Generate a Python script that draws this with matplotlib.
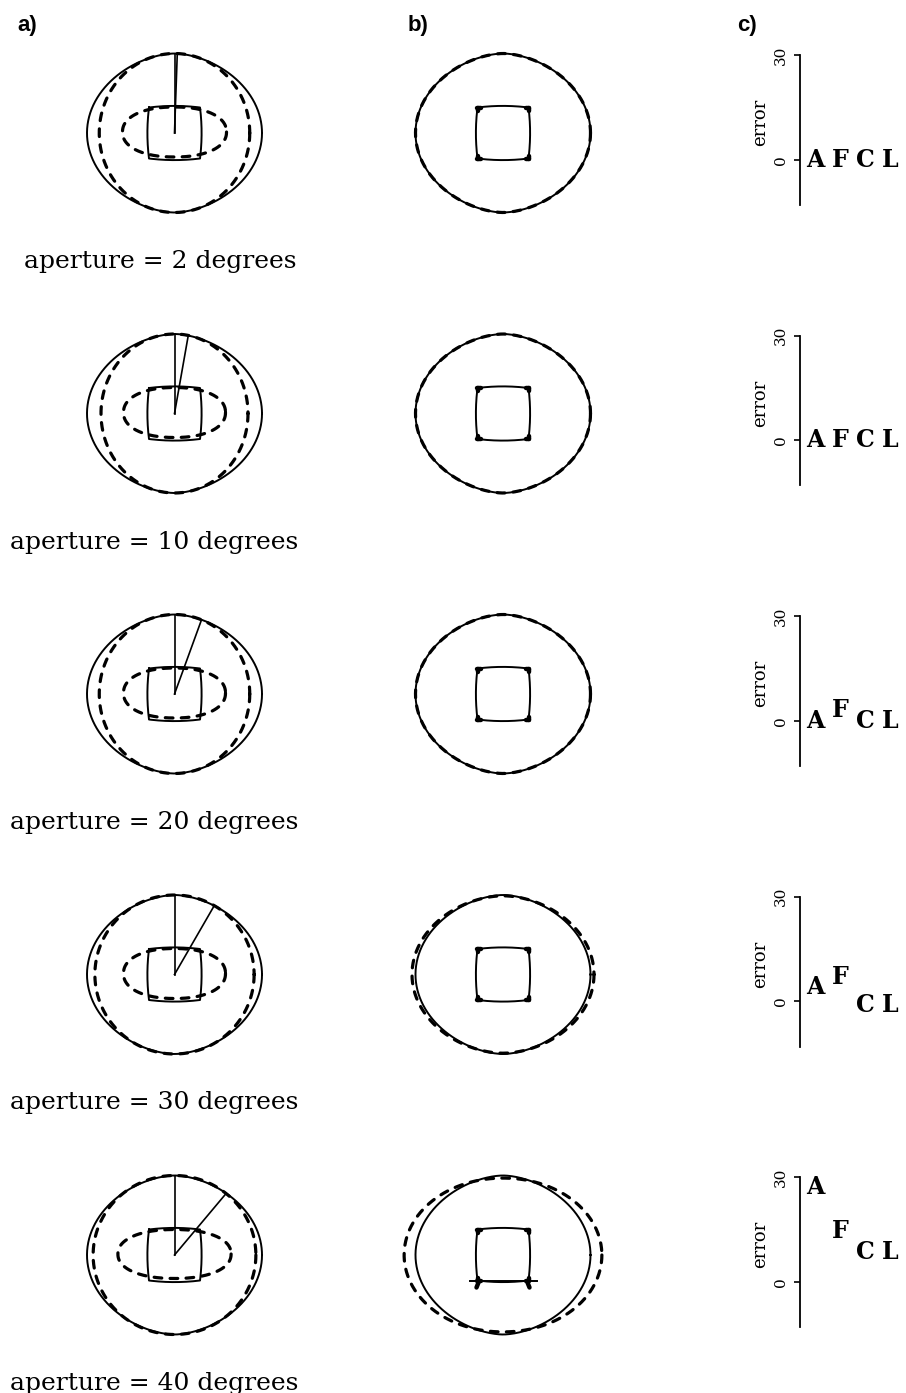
import numpy as np
import matplotlib.pyplot as plt

# one row per aperture
apertures = [2, 10, 20, 30, 40]
# column a: estimated outer contour width relative to the true contour
a_outer_est = [0.86, 0.84, 0.86, 0.91, 0.93]
# column a: estimated inner contour, half-axes relative to the square half-size
a_inner_w = [2.04, 2.0, 2.0, 2.0, 2.22]
a_inner_h = [0.98, 0.98, 0.98, 0.98, 0.96]
# column b: estimated outer contour width relative to the true contour
b_outer_est = [1.0, 1.0, 1.0, 1.04, 1.13]
# column c: error per method
methods = ['A', 'F', 'C', 'L']
err_A = [0, 0, 0, 4, 27]
err_F = [0, 0, 3, 7, 14.5]
err_C = [0, 0, 0, -1, 8.5]
err_L = [0, 0, 0, -1, 8.5]

W, H = 906, 1393
row_y0, row_dy = 133, 280.5
col_a, col_b = 174.5, 503
R_A, R_B, P_OUT = 87.5, 79.5, 1.75   # true outer contour
SQ, BULGE = 25.5, 1.6                  # true inner square
serif = 'DejaVu Serif'


def superellipse(cx, cy, a, b, px=2.0, py=2.0, n=500):
    t = np.linspace(0, 2*np.pi, n)
    c, s = np.cos(t), np.sin(t)
    return (cx + a*np.sign(c)*np.abs(c)**(2/px),
            cy + b*np.sign(s)*np.abs(s)**(2/py))


def bowed_square(cx, cy, s=SQ, bulge=BULGE, n=60):
    u = np.linspace(-1, 1, n)
    out = s + bulge*(1 - u**2)
    xs = np.concatenate([u*s, out, -u*s, -out])
    ys = np.concatenate([-out, u*s, out, -u*s])
    return np.append(cx + xs, cx + xs[0]), np.append(cy + ys, cy + ys[0])


def ray_end(cx, cy, ang):
    dx, dy = np.sin(np.radians(ang)), -np.cos(np.radians(ang))
    lo, hi = 0.0, 2*R_A
    for _ in range(50):
        r = 0.5*(lo + hi)
        f = abs(r*dx/R_A)**P_OUT + (r*dy/R_B)**2
        if f > 1:
            hi = r
        else:
            lo = r
    return cx + lo*dx, cy + lo*dy


fig = plt.figure(figsize=(W/100, H/100), dpi=100)
ax = fig.add_axes([0, 0, 1, 1])
ax.set_xlim(0, W)
ax.set_ylim(H, 0)
ax.axis('off')

dash = dict(color='k', lw=2.3, dashes=(2.4, 2.6), dash_capstyle='round')
thin = dict(color='k', lw=1.4)
blob = dict(color='k', lw=3.2, solid_capstyle='round')

for i, ap in enumerate(apertures):
    cy = row_y0 + i*row_dy

    # --- column a ---
    ax.plot(*superellipse(col_a, cy, R_A, R_B, px=P_OUT), **thin)
    ax.plot(*superellipse(col_a, cy, R_A*a_outer_est[i], R_B), **dash)
    ax.plot(*bowed_square(col_a, cy), **thin)
    ax.plot(*superellipse(col_a, cy - 1, SQ*a_inner_w[i], SQ*a_inner_h[i], 2.2, 2.2),
            **dash)
    for ang in (0, ap):
        xe, ye = ray_end(col_a, cy, ang)
        ax.plot([col_a, xe], [cy, ye], color='k', lw=1.2)
    ax.text(24 if i == 0 else 10, cy + 135, f'aperture = {ap} degrees',
            fontsize=18, family=serif, va='baseline', ha='left')

    # --- column b ---
    e = b_outer_est[i]
    ax.plot(*superellipse(col_b, cy, R_A, R_B, px=P_OUT), **thin)
    ax.plot(*superellipse(col_b, cy, R_A*e, R_B*(1 - 0.25*(e - 1)),
                          px=P_OUT + 2.2*(e - 1)), **dash)
    ax.plot(*bowed_square(col_b, cy), **thin)
    for sx in (-1, 1):
        for sy in (-1, 1):
            ax.plot([col_b + sx*(SQ - 3), col_b + sx*(SQ + 0.5)],
                    [cy + sy*SQ, cy + sy*SQ], **blob)
            ax.plot([col_b + sx*SQ, col_b + sx*SQ],
                    [cy + sy*(SQ - 3), cy + sy*SQ], **blob)
    if e > 1.1:
        ax.plot([col_b - SQ - 8, col_b + SQ + 8], [cy + SQ, cy + SQ], **thin)
        for sx in (-1, 1):
            ax.plot([col_b + sx*(SQ - 1), col_b + sx*(SQ + 1)],
                    [cy + SQ + 2, cy + SQ + 7], **blob)

    # --- column c ---
    top = 55 + i*row_dy
    bot = top + 150
    axc = fig.add_axes([800/W, 1 - bot/H, 100/W, (bot - top)/H])
    axc.set_xlim(-0.6, 3.4)
    axc.set_ylim(-13, 30)
    axc.patch.set_visible(False)
    for s in ('top', 'right', 'bottom'):
        axc.spines[s].set_visible(False)
    axc.spines['left'].set_linewidth(1.3)
    axc.set_xticks([])
    axc.set_yticks([0, 30])
    axc.set_yticklabels(['0', '30'], rotation=90, va='center',
                        family=serif, fontsize=11)
    axc.tick_params(axis='y', direction='out', length=4, width=1.2, pad=5)
    axc.set_ylabel('error', family=serif, fontsize=13)
    axc.yaxis.set_label_coords(-0.31, 0.55)
    errs = [err_A[i], err_F[i], err_C[i], err_L[i]]
    for j, m in enumerate(methods):
        axc.text(j, errs[j], m, ha='center', va='center', fontsize=17,
                 fontweight='bold', family=serif, clip_on=False)

for lab, x in (('a)', 17), ('b)', 408), ('c)', 737)):
    fig.text(x/W, 1 - 15/H, lab, ha='left', va='top', fontsize=16,
             fontweight='bold', family='Liberation Sans')

fig.savefig('out.png', dpi=100)
